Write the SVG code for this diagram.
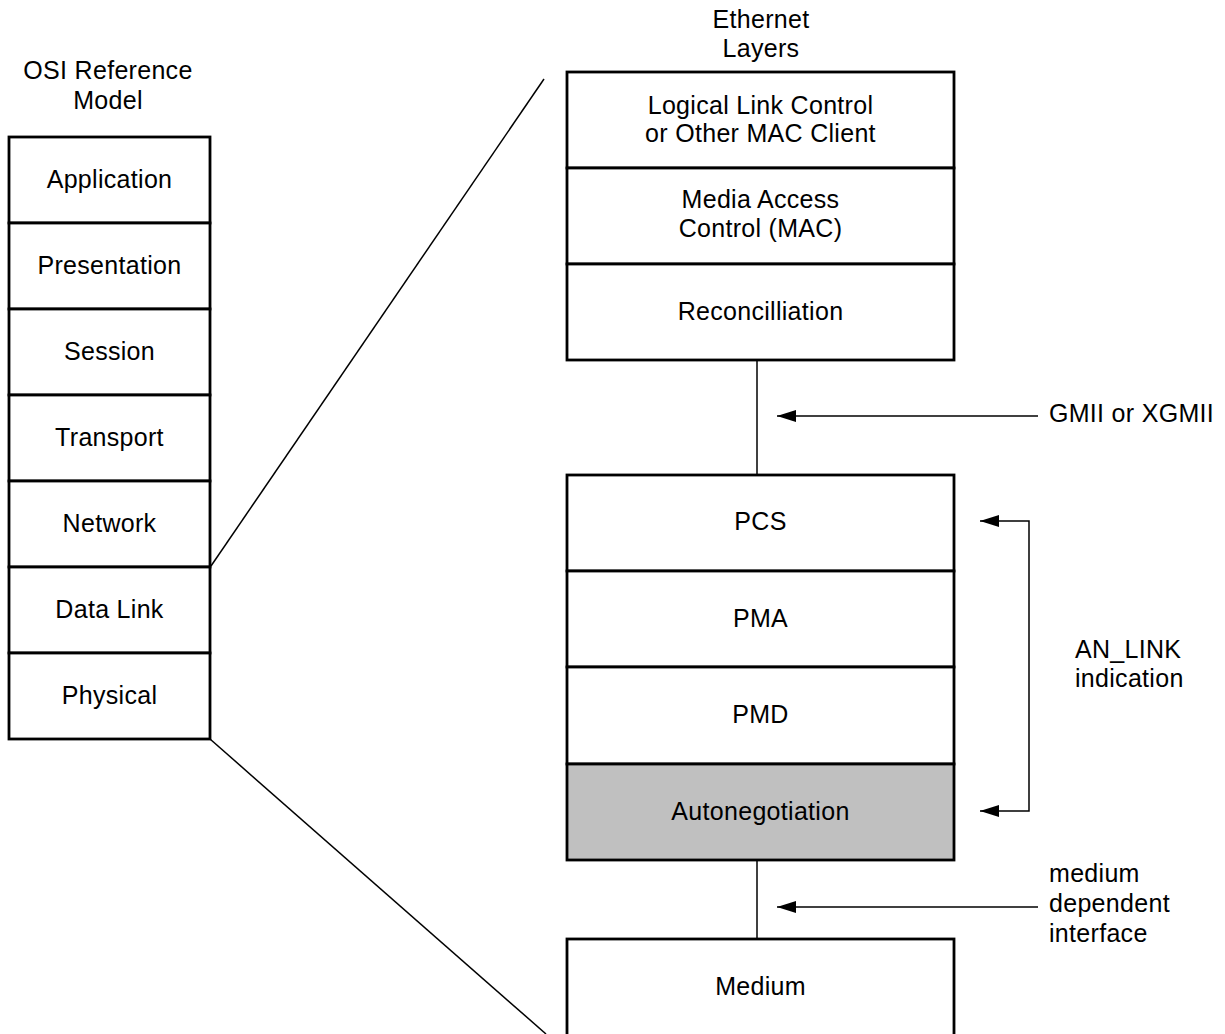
<svg xmlns="http://www.w3.org/2000/svg" width="1225" height="1034" viewBox="0 0 1225 1034">
<style>
  text { font-family: "Liberation Sans", Arial, sans-serif; font-size: 25px; fill: #000; letter-spacing: 0.3px; }
  .c { text-anchor: middle; }
  .box { fill: #fff; stroke: #000; stroke-width: 2.8; }
  .gray { fill: #c0c0c0; }
  .ln { fill: none; stroke: #000; stroke-width: 1.5; }
</style>
<defs>
  <marker id="ah" markerUnits="userSpaceOnUse" viewBox="0 0 19 12" refX="19" refY="6" markerWidth="19" markerHeight="12" orient="auto-start-reverse">
    <path d="M0,0 L19,6 L0,12 z" fill="#000"/>
  </marker>
</defs>
<rect width="1225" height="1034" fill="#fff"/>

<g id="connectors">
  <line class="ln" x1="211" y1="566" x2="544" y2="79"/>
  <line class="ln" x1="210" y1="739" x2="546" y2="1034"/>
  <line class="ln" x1="757" y1="360" x2="757" y2="475"/>
  <line class="ln" x1="757" y1="860" x2="757" y2="939"/>
  <line class="ln" x1="1038" y1="416" x2="777" y2="416" marker-end="url(#ah)"/>
  <line class="ln" x1="1038" y1="907" x2="777" y2="907" marker-end="url(#ah)"/>
  <path class="ln" d="M980,521 H1029 V811 H980" marker-start="url(#ah)" marker-end="url(#ah)"/>
</g>

<g id="osi-title">
  <text class="c" x="108" y="79">OSI Reference</text>
  <text class="c" x="108" y="109">Model</text>
</g>
<g id="osi-application"><rect class="box" x="9" y="137" width="201" height="86"/><text class="c" x="109.5" y="188">Application</text></g>
<g id="osi-presentation"><rect class="box" x="9" y="223" width="201" height="86"/><text class="c" x="109.5" y="274">Presentation</text></g>
<g id="osi-session"><rect class="box" x="9" y="309" width="201" height="86"/><text class="c" x="109.5" y="360">Session</text></g>
<g id="osi-transport"><rect class="box" x="9" y="395" width="201" height="86"/><text class="c" x="109.5" y="446">Transport</text></g>
<g id="osi-network"><rect class="box" x="9" y="481" width="201" height="86"/><text class="c" x="109.5" y="532">Network</text></g>
<g id="osi-datalink"><rect class="box" x="9" y="567" width="201" height="86"/><text class="c" x="109.5" y="618">Data Link</text></g>
<g id="osi-physical"><rect class="box" x="9" y="653" width="201" height="86"/><text class="c" x="109.5" y="704">Physical</text></g>

<g id="eth-title">
  <text class="c" x="761" y="28">Ethernet</text>
  <text class="c" x="761" y="57">Layers</text>
</g>
<g id="eth-llc"><rect class="box" x="567" y="72" width="387" height="96"/><text class="c" x="760.5" y="114">Logical Link Control</text><text class="c" x="760.5" y="142">or Other MAC Client</text></g>
<g id="eth-mac"><rect class="box" x="567" y="168" width="387" height="96"/><text class="c" x="760.5" y="208">Media Access</text><text class="c" x="760.5" y="237">Control (MAC)</text></g>
<g id="eth-recon"><rect class="box" x="567" y="264" width="387" height="96"/><text class="c" x="760.5" y="320">Reconcilliation</text></g>
<g id="eth-pcs"><rect class="box" x="567" y="475" width="387" height="96"/><text class="c" x="760.5" y="530">PCS</text></g>
<g id="eth-pma"><rect class="box" x="567" y="571" width="387" height="96"/><text class="c" x="760.5" y="627">PMA</text></g>
<g id="eth-pmd"><rect class="box" x="567" y="667" width="387" height="97"/><text class="c" x="760.5" y="723">PMD</text></g>
<g id="eth-autoneg"><rect class="box gray" x="567" y="764" width="387" height="96"/><text class="c" x="760.5" y="820">Autonegotiation</text></g>
<g id="eth-medium"><rect class="box" x="567" y="939" width="387" height="110"/><text class="c" x="760.5" y="995">Medium</text></g>

<g id="label-gmii"><text x="1049" y="422">GMII or XGMII</text></g>
<g id="label-anlink"><text x="1075" y="658">AN_LINK</text><text x="1075" y="687">indication</text></g>
<g id="label-mdi"><text x="1049" y="882">medium</text><text x="1049" y="912">dependent</text><text x="1049" y="942">interface</text></g>
</svg>
